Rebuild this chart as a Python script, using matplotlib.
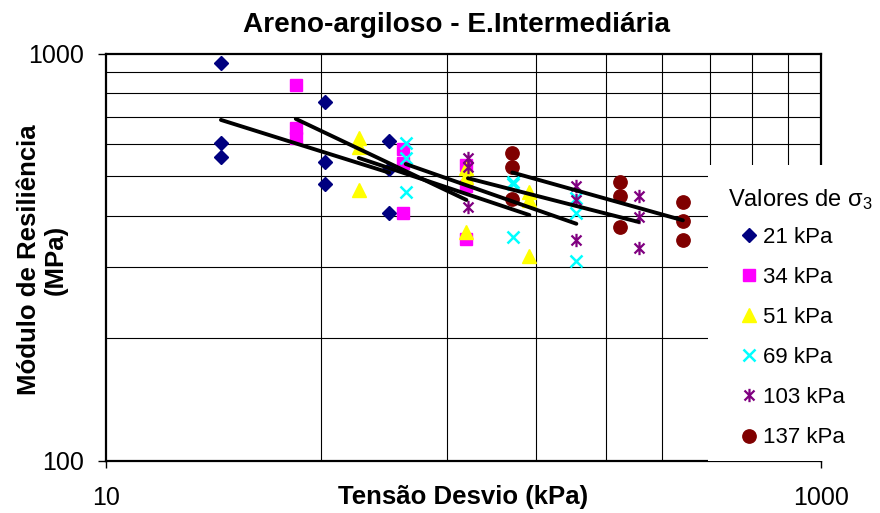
import matplotlib.pyplot as plt
import numpy as np
from matplotlib.path import Path
from matplotlib.patches import Rectangle
from matplotlib.lines import Line2D
from matplotlib.ticker import NullFormatter

plt.rcParams['font.family'] = ['Liberation Sans', 'DejaVu Sans']
plt.rcParams['mathtext.default'] = 'regular'

# deviator stress (kPa) / resilient modulus (MPa), one pair per confining pressure
sd_21 = [21, 21, 21, 41, 41, 41, 62, 62, 62]
mr_21 = [947, 603, 559, 759, 541, 479, 611, 520, 406]

sd_34 = [34, 34, 34, 68, 68, 68, 102, 102, 102]
mr_34 = [838, 657, 621, 583, 539, 406, 533, 474, 350]

sd_51 = [51, 51, 51, 102, 102, 102, 153, 153, 153]
mr_51 = [620, 590, 462, 525, 499, 364, 458, 437, 318]

sd_69 = [69, 69, 69, 138, 138, 138, 207, 207, 207]
mr_69 = [602, 556, 458, 485, 478, 355, 442, 406, 309]

sd_103 = [103, 103, 103, 206, 206, 206, 309, 309, 309]
mr_103 = [554, 528, 421, 474, 437, 349, 448, 398, 333]

sd_137 = [137, 137, 137, 274, 274, 274, 411, 411, 411]
mr_137 = [571, 528, 439, 485, 448, 376, 433, 388, 348]

labels = ["21 kPa", "34 kPa", "51 kPa", "69 kPa", "103 kPa", "137 kPa"]

# minor grid positions
x_grid = [40, 90, 160, 250, 360, 490, 640, 810]
y_grid = [200, 300, 400, 500, 600, 700, 800, 900]

# asterisk marker: vertical bar plus an X
star = Path([(0, -1), (0, 1), (-0.75, -0.75), (0.75, 0.75), (-0.75, 0.75), (0.75, -0.75)],
            [Path.MOVETO, Path.LINETO] * 3)

styles = [
    dict(marker="D", color="#000080", ms=7.4, mec="#000080"),
    dict(marker="s", color="#FF00FF", ms=9.3, mec="#FF00FF"),
    dict(marker="^", color="#FFFF00", ms=9.6, mec="#FFFF00"),
    dict(marker="x", color="#00FFFF", ms=9.2, mew=1.8),
    dict(marker=star, color="#800080", ms=9.6, mew=1.6, mfc="none"),
    dict(marker="o", color="#800000", ms=9.6, mec="#800000"),
]
data = [(sd_21, mr_21), (sd_34, mr_34), (sd_51, mr_51),
        (sd_69, mr_69), (sd_103, mr_103), (sd_137, mr_137)]

fig = plt.figure(figsize=(8.8, 5.13), dpi=100)
ax = fig.add_axes([105.7 / 880, 52 / 513, 715.3 / 880, 407.3 / 513])
ax.set_xscale("log")
ax.set_yscale("log")
ax.set_xlim(10, 1000)
ax.set_ylim(100, 1000)

handles = []
for (x, y), st, lab in zip(data, styles, labels):
    ax.plot(x, y, linestyle="none", zorder=2.5, **st)
    handles.append(Line2D([], [], linestyle="none", **st))

# power-law trend line for each confining pressure
for x, y in data:
    lx, ly = np.log10(x), np.log10(y)
    b, a = np.polyfit(lx, ly, 1)
    xs = np.linspace(lx.min(), lx.max(), 50)
    ax.plot(10 ** xs, 10 ** (a + b * xs), color="black", lw=2.8,
            solid_capstyle="round", zorder=3)

ax.set_xticks([10, 1000])
ax.set_xticklabels(["10", "1000"])
ax.set_yticks([100, 1000])
ax.set_yticklabels(["100", "1000"])
ax.set_xticks(x_grid, minor=True)
ax.set_yticks(y_grid, minor=True)
ax.xaxis.set_minor_formatter(NullFormatter())
ax.yaxis.set_minor_formatter(NullFormatter())
ax.tick_params(which="minor", length=0)
ax.tick_params(axis="x", which="major", length=5, width=1, pad=13, labelsize=18)
ax.tick_params(axis="y", which="major", length=5.8, width=1, pad=10, labelsize=18)
ax.grid(which="minor", color="black", lw=0.8)
for sp in ax.spines.values():
    sp.set_linewidth(1.6)
    sp.set_color("black")

# white legend area over the right part of the plot
fig.add_artist(Rectangle((708 / 880, (513 - 460.5) / 513), (880 - 708) / 880,
                         (460.5 - 165) / 513, transform=fig.transFigure,
                         facecolor="white", edgecolor="none", zorder=4.5))
fig.legend(handles, labels, loc="center left", bbox_to_anchor=(740 / 880, 1 - 337.5 / 513),
           frameon=False, fontsize=16, handlelength=0.8, handletextpad=0.25,
           labelspacing=0.86, borderpad=0, borderaxespad=0)
fig.text(728 / 880, 1 - 200 / 513, "Valores de $\\sigma_3$", fontsize=17,
         va="center", ha="left", zorder=6)

fig.text(456 / 880, 1 - 25 / 513, "Areno-argiloso - E.Intermediária",
         ha="center", va="center", fontsize=20.2, fontweight="bold")
fig.text(463 / 880, 1 - 497 / 513, "Tensão Desvio (kPa)",
         ha="center", va="center", fontsize=18.5, fontweight="bold")
fig.text(42 / 880, 1 - 260 / 513, "Módulo de Resiliência\n(MPa)", rotation=90,
         ha="center", va="center", multialignment="center", linespacing=1.15,
         fontsize=18.5, fontweight="bold")

fig.savefig("out.png", dpi=100)
